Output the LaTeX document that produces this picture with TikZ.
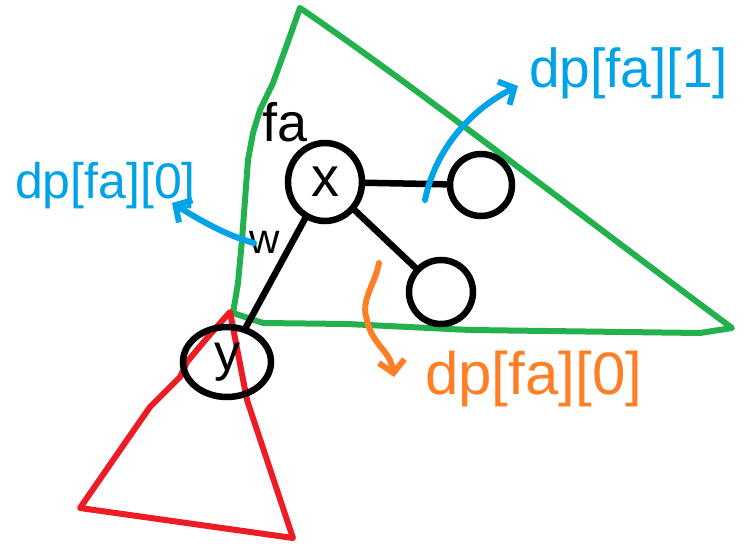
\documentclass[tikz,border=0pt]{standalone}
\usepackage{fontspec}
\setmainfont{Liberation Sans}
\usetikzlibrary{arrows.meta,shapes.geometric}
\definecolor{pblue}{HTML}{00A2E8}
\definecolor{pgreen}{HTML}{22B14C}
\definecolor{pred}{HTML}{ED1C24}
\definecolor{porange}{HTML}{FF7F27}
\tikzset{
  treenode/.style={draw=black, line width=6.5pt, circle, inner sep=0pt},
  treeedge/.style={draw=black, line width=6.5pt, line cap=round},
  pen/.style={line width=6pt, line cap=round, line join=round},
  barb/.style={-{Straight Barb[length=12pt,width=26pt,line width=6pt]}},
  lbl/.style={anchor=base west, inner sep=0pt},
}
\begin{document}
\begin{tikzpicture}[x=1pt,y=-1pt]
\useasboundingbox (0,0) rectangle (753,556);
% green triangle
\draw[pen, pgreen] (300,8) -- (285,50) -- (273,83) -- (260,110) -- (253,133) -- (248,160)
  -- (245,200) -- (242,240) -- (238,283) -- (233,313)
  -- (263,323) -- (347,324) -- (470,330) -- (700,333) -- (732,328)
  .. controls (600,230) and (420,90) .. cycle;
% red triangle
\draw[pen, pred] (230,312) -- (207,338) -- (187,362) -- (180,377) -- (150,407) -- (127,440) -- (80,508)
  -- (293,538) -- (247,400) -- cycle;
% nodes
\node[treenode, minimum width=74pt, minimum height=78pt, ellipse, font=\fontsize{56}{60}\selectfont] (x) at (325,182) {x};
\node[treenode, ellipse, minimum width=88pt, minimum height=70pt, font=\fontsize{52}{56}\selectfont] (y) at (227,362) {y};
\node[treenode, minimum size=62pt] (c1) at (481,185) {};
\node[treenode, minimum size=64pt] (c2) at (441,292) {};
% edges
\draw[treeedge] (x) -- (c1);
\draw[treeedge] (x) -- (c2);
\draw[treeedge] (x) -- (y);
% labels
\node[lbl, font=\fontsize{54}{58}\selectfont] (fa) at (262,142) {fa};
\node[lbl, font=\fontsize{42}{46}\selectfont] (w) at (249,254) {w};
\node[lbl, pblue, font=\fontsize{50}{56}\selectfont] (b0) at (15,199) {dp[fa][0]};
\node[lbl, pblue, font=\fontsize{55}{60}\selectfont] (b1) at (529,88) {dp[fa][1]};
\node[lbl, porange, font=\fontsize{60}{66}\selectfont] (o0) at (425,394) {dp[fa][0]};
% arrows
\coordinate (a1s) at (254,243);
\coordinate (a1e) at (172,203);
\draw[pen, pblue, barb] (a1s) .. controls (225,235) and (200,220) .. (a1e);
\coordinate (a2s) at (425,200);
\coordinate (a2e) at (518,86);
\draw[pen, pblue, barb] (a2s) .. controls (435,150) and (470,110) .. (a2e);
\coordinate (a3s) at (379,263);
\coordinate (a3e) at (394,377);
\draw[pen, porange, barb] (a3s) .. controls (375,285) and (360,300) .. (367,320)
  .. controls (372,345) and (390,350) .. (a3e);
\end{tikzpicture}
\end{document}
